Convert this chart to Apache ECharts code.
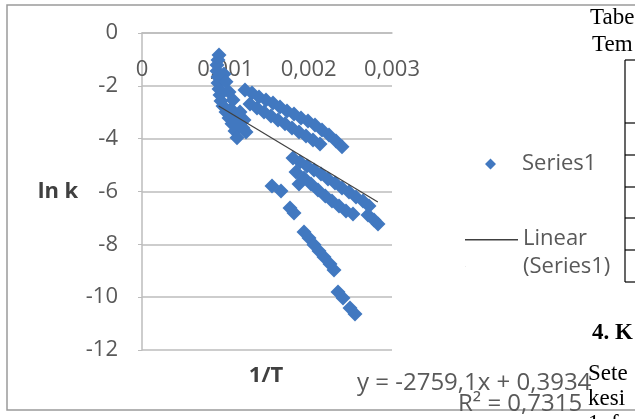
<!DOCTYPE html>
<html><head><meta charset="utf-8">
<script src="https://cdn.jsdelivr.net/npm/echarts@6/dist/echarts.min.js"></script>
<style>html,body{margin:0;padding:0;background:#fff}#c{width:635px;height:419px}</style>
</head><body><div id="c"></div>
<script>
// 1/T values (x) and ln k values (y) of Series1
const series1X = [
  0.000924,0.000912,0.0009,0.0009,0.000912,0.000912,0.000924,0.000936,0.000984,0.001008,0.000948,
  0.000972,0.001008,0.001044,0.00108,0.001116,0.00114,0.001068,0.001116,0.001164,0.001212,0.001248,
  0.001044,0.001092,0.001176,0.001224,
  0.001236,0.00132,0.001404,0.001488,0.001572,0.001656,0.00174,0.001824,0.001908,0.001992,0.002076,0.00216,0.002244,0.002328,0.0024,
  0.001296,0.00138,0.001464,0.001548,0.001632,0.001716,0.0018,0.001884,0.001968,0.002052,0.002136,
  0.001812,0.001896,0.00198,0.002064,0.002148,0.002232,0.002316,0.0024,0.002484,0.002568,0.002652,0.002724,
  0.001848,0.001884,0.001944,0.002028,0.002112,0.0022,0.00228,0.002364,0.002448,0.002532,
  0.002712,0.002784,0.002832,
  0.00156,0.001668,0.001776,0.001824,
  0.001944,0.002004,0.002064,0.002124,0.002184,0.002256,0.002304,
  0.002352,0.002412,0.002496,0.002556
];
const series1Y = [
  -0.83,-1.02,-1.21,-1.44,-1.67,-1.89,-2.12,-2.35,-1.55,-1.85,-2.57,
  -2.76,-2.99,-3.22,-3.44,-3.71,-3.97,-2.88,-3.10,-3.37,-3.60,-3.75,
  -2.23,-2.54,-2.99,-3.29,
  -2.16,-2.27,-2.42,-2.54,-2.65,-2.80,-2.95,-3.07,-3.22,-3.33,-3.48,-3.67,-3.86,-4.09,-4.31,
  -2.69,-2.84,-2.99,-3.14,-3.29,-3.44,-3.60,-3.75,-3.90,-4.05,-4.20,
  -4.73,-4.88,-5.03,-5.19,-5.34,-5.53,-5.68,-5.87,-6.02,-6.21,-6.36,-6.55,
  -5.26,-5.72,-5.49,-5.72,-5.94,-6.17,-6.36,-6.55,-6.74,-6.85,
  -6.89,-7.08,-7.23,
  -5.79,-5.98,-6.62,-6.81,
  -7.53,-7.76,-8.02,-8.25,-8.48,-8.74,-8.97,
  -9.80,-10.03,-10.41,-10.64
];
// Linear trendline end points
const trendX = [0.00092, 0.00283];
const trendY = [-2.76, -6.40];
const yTicks = [-12,-10,-8,-6,-4,-2,0];
const xTicks = [0,0.001,0.002,0.003];
const equationText = 'y = -2759,1x + 0,3934';
const r2Text = 'R\u00B2 = 0,7315';

const FONT = '"Open Sans", sans-serif';
const SERIF = '"Liberation Serif", "Times New Roman", serif';
const GRAY = '#595959';

const chart = echarts.init(document.getElementById('c'), null, {renderer:'canvas'});
const scatterData = series1X.map((x,i)=>[x, series1Y[i]]);
const trendData = trendX.map((x,i)=>[x, trendY[i]]);

function txt(x,y,text,opt){
  return Object.assign({type:'text', x:x, y:y, silent:true,
    style:Object.assign({text:text, fill:GRAY, font:'20px '+FONT, textVerticalAlign:'middle'}, opt||{})});
}
function ln(x1,y1,x2,y2,c,w){
  return {type:'line', silent:true, shape:{x1,y1,x2,y2}, style:{stroke:c||'#000', lineWidth:w||1}};
}

chart.setOption({
  animation:false,
  backgroundColor:'#fff',
  grid:{left:142, top:33, width:250, height:317, containLabel:false},
  xAxis:{
    type:'value', position:'top', min:xTicks[0], max:xTicks[xTicks.length-1], interval:0.001,
    axisLine:{show:true, lineStyle:{color:'#bcbcbc', width:1.5}},
    axisTick:{show:false},
    splitLine:{show:false},
    axisLabel:{inside:true, margin:26, fontSize:22, color:GRAY, fontFamily:FONT,
      formatter:v=> v===0 ? '0' : v.toFixed(3).replace('.',',')}
  },
  yAxis:{
    type:'value', min:yTicks[0], max:yTicks[yTicks.length-1], interval:2,
    axisLine:{show:true, lineStyle:{color:'#bcbcbc', width:1.5}},
    axisTick:{show:true, length:4, lineStyle:{color:'#bcbcbc'}},
    splitLine:{show:true, lineStyle:{color:'#bcbcbc', width:1.5}},
    axisLabel:{margin:24, fontSize:22, color:GRAY, fontFamily:FONT}
  },
  legend:[
    {data:[{name:'Series1', icon:'path://M26.5,0L32,5.5L26.5,11L21,5.5Z M0,5.45H0.05V5.55H0Z M52.95,5.45H53V5.55H52.95Z'}],
     left:464, top:153, orient:'vertical', padding:0, itemGap:0,
     itemWidth:53, itemHeight:11, textGap:4,
     textStyle:{fontSize:22, color:GRAY, fontFamily:FONT}},
    {data:[{name:'Linear\n(Series1)', icon:'path://M0,0H53V1.4H0Z M0,27H0.1V28H0Z'}],
     left:465, top:225, orient:'vertical', padding:0, itemGap:0,
     itemWidth:53, itemHeight:28, textGap:4,
     textStyle:{fontSize:22, color:GRAY, fontFamily:FONT, lineHeight:28}}
  ],
  series:[
    {name:'Series1', type:'scatter', data:scatterData, symbol:'diamond', symbolSize:15,
     itemStyle:{color:'#4178c0', opacity:1}, z:2},
    {name:'Linear\n(Series1)', type:'line', data:trendData, symbol:'none',
     lineStyle:{color:'#404040', width:1.2}, itemStyle:{color:'#404040'}, z:3}
  ],
  graphic:[
    {type:'rect', silent:true, shape:{x:7, y:5, width:720, height:405},
     style:{fill:'none', stroke:'#9a9a9a', lineWidth:1.5}},
    txt(58, 192, 'ln k', {font:'bold 22px '+FONT, fill:'#404040', textAlign:'center'}),
    txt(266, 376, '1/T', {font:'bold 22px '+FONT, fill:'#404040', textAlign:'center'}),
    txt(357, 383, equationText, {font:'24px '+FONT}),
    txt(458, 404, r2Text, {font:'24px '+FONT}),
    // surrounding document text overlapping the chart
    txt(590, 18, 'Tabe', {font:'23px '+SERIF, fill:'#000'}),
    txt(592, 45, 'Tem', {font:'23px '+SERIF, fill:'#000'}),
    txt(592, 333, '4. K', {font:'bold 23px '+SERIF, fill:'#000'}),
    txt(588, 374, 'Sete', {font:'23px '+SERIF, fill:'#000'}),
    txt(588, 399, 'kesi', {font:'23px '+SERIF, fill:'#000'}),
    txt(588, 424, '1. f', {font:'23px '+SERIF, fill:'#000'}),
    ln(625,60,625,282,'#000',1.2),
    ln(625,60,640,60,'#000',1.2),
    ln(625,123,640,123,'#000',1.2),
    ln(625,155,640,155,'#000',1.2),
    ln(625,187,640,187,'#000',1.2),
    ln(625,218,640,218,'#000',1.2),
    ln(625,250,640,250,'#000',1.2),
    ln(625,282,640,282,'#000',1.2)
  ]
});
</script></body></html>
